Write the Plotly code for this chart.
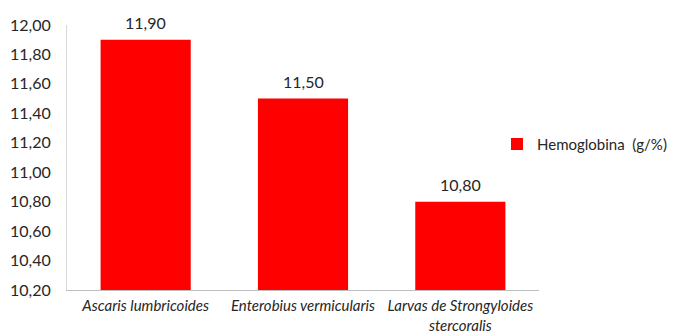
import plotly.graph_objects as go

categories = ["Ascaris lumbricoides", "Enterobius vermicularis", "Larvas de Strongyloides<br>stercoralis"]
values = [11.90, 11.50, 10.80]
series_name = "Hemoglobina  (g/%)"
tick_vals = [10.2, 10.4, 10.6, 10.8, 11.0, 11.2, 11.4, 11.6, 11.8, 12.0]

font_family = "Lato"
text_color = "#262626"

fig = go.Figure()
fig.add_trace(go.Bar(
    x=categories,
    y=values,
    name=series_name,
    marker=dict(color="#FF0000", line=dict(width=0)),
    width=0.573,
    showlegend=True,
))

for c, v in zip(categories, values):
    fig.add_annotation(
        x=c, y=v, text=f"{v:.2f}".replace(".", ","),
        showarrow=False, yanchor="bottom", yshift=6,
        font=dict(family=font_family, size=16, color=text_color),
    )

fig.update_layout(
    width=673,
    height=336,
    margin=dict(l=67, r=134, t=25, b=46, autoexpand=False),
    paper_bgcolor="white",
    plot_bgcolor="white",
    separators=",.",
    font=dict(family=font_family, size=15, color=text_color),
    showlegend=True,
    legend=dict(
        x=0.911, y=0.55, xanchor="left", yanchor="middle",
        font=dict(family=font_family, size=15, color=text_color),
        bgcolor="rgba(0,0,0,0)",
        itemwidth=30,
    ),
    xaxis=dict(
        showline=True, linecolor="#BFBFBF", linewidth=1,
        showgrid=False, ticks="", tickangle=0, automargin=False,
        ticklabelstandoff=2,
        tickfont=dict(family=font_family, size=15, color=text_color, style="italic"),
    ),
    yaxis=dict(
        range=[10.2, 12.0],
        tickvals=tick_vals,
        tickformat=".2f",
        showline=True, linecolor="#D9D9D9", linewidth=1,
        showgrid=False, ticks="", zeroline=False, automargin=False,
        ticklabelstandoff=12,
        tickfont=dict(family=font_family, size=16, color=text_color),
    ),
    bargap=0.427,
)

fig.write_html("out.html")
